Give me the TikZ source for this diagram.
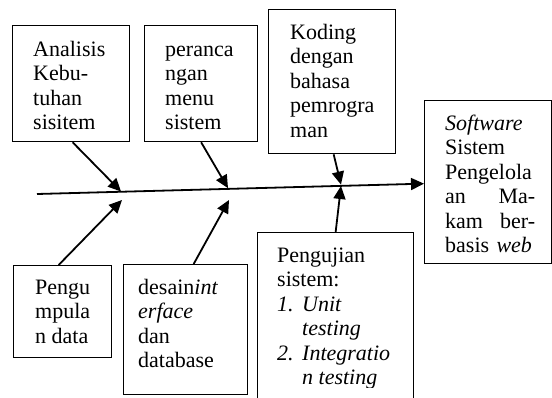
\documentclass[tikz,border=0pt]{standalone}
\usepackage{fontspec}
\setmainfont{Liberation Serif}
\usetikzlibrary{arrows.meta}
\begin{document}
\begin{tikzpicture}[x=1pt, y=-1pt,
  box/.style={draw, line width=1.3pt, anchor=north west, inner sep=0pt},
  % plain texts sit on the baseline of their last line,
  % texts with a text width on the baseline of their first line
  txt/.style={anchor=base west, align=left, inner sep=0pt,
              font=\fontsize{22}{24.5}\selectfont},
  bone/.style={line width=1.8pt, -{Triangle[length=13pt,width=12pt]}}]
  \clip (0,0) rectangle (552,397);

  % cause boxes above the spine
  \node[box, minimum width=117pt, minimum height=116pt] (ana) at (12,25) {};
  \node[box, minimum width=113pt, minimum height=116pt] (ran) at (144,25) {};
  \node[box, minimum width=127pt, minimum height=144pt] (kod) at (268,9) {};
  % result box
  \node[box, minimum width=127pt, minimum height=163pt] (soft) at (424,100) {};
  % cause boxes below the spine
  \node[box, minimum width=98pt, minimum height=92pt] (kum) at (13,265) {};
  \node[box, minimum width=124pt, minimum height=130pt] (des) at (123,264) {};
  \node[box, minimum width=156pt, minimum height=200pt] (uji) at (257,232) {};

  % box texts (the last lines are cut at the box's inner margin)
  \begin{scope}
    \clip (0,0) rectangle (552,131);
    \node[txt] (ana-t) at (33,129.5) {Analisis\\Kebu-\\tuhan\\sisitem};
    \node[txt] (ran-t) at (165,129.5) {peranca\\ngan\\menu\\sistem};
  \end{scope}
  \node[txt] (kod-t) at (290,137) {Koding\\dengan\\bahasa\\pemrogra\\man};
  \node[txt, text width=90pt] (soft-t) at (445,130)
    {\textit{Software}\\Sistem\\Pengelola\\an\hfill Ma-\\kam\hfill ber-\\basis \textit{web}};
  \node[txt] (kum-t) at (35,343) {Pengu\\mpula\\n data};
  \node[txt] (des-t) at (138,367.5) {desain\textit{int}\\\textit{erface}\\dan\\database};
  \begin{scope}
    \clip (0,0) rectangle (552,387);
    \node[txt] (uji-t) at (277,384.5)
      {Pengujian\\sistem:\\
       \makebox[25pt][l]{\textit{1.}}\textit{Unit}\\
       \hspace*{25pt}\textit{testing}\\
       \makebox[25pt][l]{\textit{2.}}\textit{Integratio}\\
       \hspace*{25pt}\textit{n testing}};
  \end{scope}

  % spine and its junctions
  \coordinate (tail) at (37,194);
  \coordinate (j1) at (121,191.5);
  \coordinate (j2) at (228,188.2);
  \coordinate (j3) at (341,184.6);
  \coordinate (b1) at (122,200);
  \coordinate (b2) at (229,200);
  \coordinate (b3) at (341,186);
  \draw[bone] (tail) -- ([yshift=-1.5pt]soft.west);

  % ribs
  \draw[bone] ([xshift=1.5pt]ana.south) -- (j1);
  \draw[bone] (ran.south) -- (j2);
  \draw[bone] ([xshift=1.5pt]kod.south) -- (j3);
  \draw[bone] ([xshift=-4pt]kum.north) -- (b1);
  \draw[bone] ([xshift=8pt]des.north) -- (b2);
  \draw[bone] (uji.north) -- (b3);
\end{tikzpicture}
\end{document}
